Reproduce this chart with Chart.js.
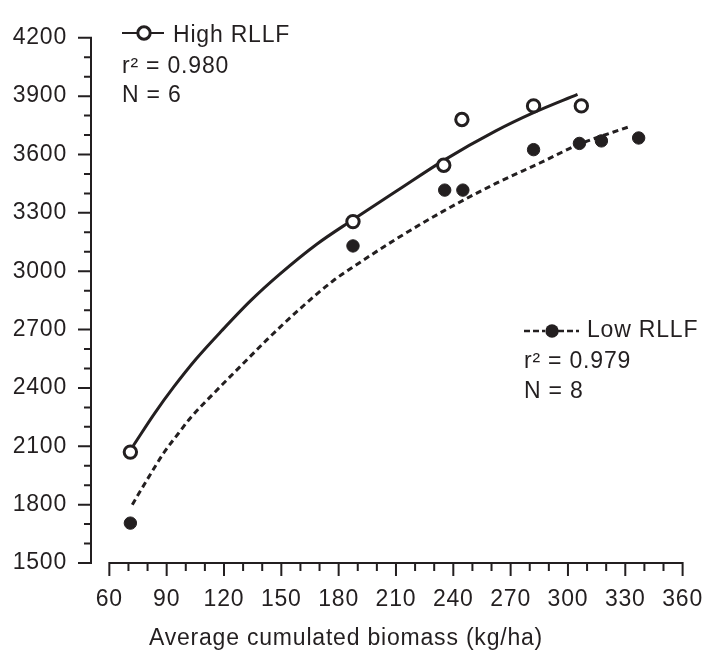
<!DOCTYPE html>
<html lang="en">
<head>
    <meta charset="UTF-8">
    <title>Average cumulated biomass vs RLLF</title>
    <script src="https://cdn.jsdelivr.net/npm/chart.js"></script>
    <style>
        body { margin: 0; background: #fff; }
        #wrap { width: 726px; height: 655px; }
    </style>
</head>
<body>
    <div id="wrap"><canvas id="biomassChart"></canvas></div>

    <script>
        // observed points (open circles = high RLLF, filled = low RLLF)
        var highX = [71, 187.5, 235, 244.5, 282, 307];
        var highY = [2070, 3255, 3545, 3780, 3850, 3850];
        var lowX = [71, 187.5, 235.5, 245, 282, 306, 317.5, 337];
        var lowY = [1705, 3130, 3417, 3417, 3625, 3657, 3670, 3685];

        // fitted curves
        var highFitX = [72.6, 83.6, 93.7, 105.5, 118.9, 134.1, 149.2, 168.7, 187, 211.5, 235, 262, 282, 305];
        var highFitY = [2104, 2268, 2405, 2550, 2695, 2850, 2985, 3140, 3262, 3420, 3570, 3720, 3815, 3909];
        var lowFitX = [72, 80.2, 88.6, 96.2, 102.1, 115.6, 129, 142.5, 159.3, 177, 188.8, 210, 235, 262, 285, 306, 332.4];
        var lowFitY = [1800, 1935, 2068, 2167, 2242, 2382, 2515, 2648, 2803, 2950, 3030, 3165, 3310, 3450, 3555, 3653, 3744];

        // tick labels
        var xLabels = [60, 90, 120, 150, 180, 210, 240, 270, 300, 330, 360];
        var yLabels = [1500, 1800, 2100, 2400, 2700, 3000, 3300, 3600, 3900, 4200];

        var ink = '#231f20';
        var family = '"Liberation Sans", Arial, Helvetica, sans-serif';
        var spacing = '0.8px';

        function pts(xs, ys) {
            return xs.map(function (x, i) { return { x: x, y: ys[i] }; });
        }

        // axis lines, tick marks, keys and x title
        var axisPlugin = {
            id: 'axisPlugin',
            beforeLayout: function (chart) { chart.ctx.letterSpacing = spacing; },
            beforeDraw: function (chart) { chart.ctx.letterSpacing = spacing; },
            afterDraw: function (chart) {
                var ctx = chart.ctx;
                var xs = chart.scales.x, ys = chart.scales.y;
                var left = chart.chartArea.left, bottom = chart.chartArea.bottom;
                var v, p;

                ctx.save();
                ctx.strokeStyle = ink;
                ctx.fillStyle = ink;
                ctx.lineWidth = 2;
                ctx.beginPath();
                // y axis with minor ticks every 100
                ctx.moveTo(left, ys.getPixelForValue(yLabels[yLabels.length - 1]) - 1);
                ctx.lineTo(left, ys.getPixelForValue(yLabels[0]) + 1);
                for (v = yLabels[0]; v <= yLabels[yLabels.length - 1]; v += 100) {
                    p = ys.getPixelForValue(v);
                    ctx.moveTo(left, p);
                    ctx.lineTo(left - (v % 300 === 0 ? 13 : 7), p);
                }
                // x axis, detached from the y axis, minor ticks every 10
                ctx.moveTo(xs.getPixelForValue(xLabels[0]) - 1, bottom);
                ctx.lineTo(xs.getPixelForValue(xLabels[xLabels.length - 1]) + 1, bottom);
                for (v = xLabels[0]; v <= xLabels[xLabels.length - 1]; v += 10) {
                    p = xs.getPixelForValue(v);
                    ctx.moveTo(p, bottom);
                    ctx.lineTo(p, bottom + (v % 30 === 0 ? 13 : 8));
                }
                ctx.stroke();

                // key: High RLLF
                ctx.beginPath();
                ctx.moveTo(122, 33);
                ctx.lineTo(164, 33);
                ctx.stroke();
                ctx.beginPath();
                ctx.arc(144, 33, 6.2, 0, Math.PI * 2);
                ctx.fillStyle = '#fff';
                ctx.fill();
                ctx.lineWidth = 3;
                ctx.stroke();

                // key: Low RLLF
                ctx.lineWidth = 2.5;
                ctx.setLineDash([6, 3]);
                ctx.beginPath();
                ctx.moveTo(524, 331);
                ctx.lineTo(545, 331);
                ctx.moveTo(558, 331);
                ctx.lineTo(579, 331);
                ctx.stroke();
                ctx.setLineDash([]);
                ctx.beginPath();
                ctx.arc(552, 331, 6.7, 0, Math.PI * 2);
                ctx.fillStyle = ink;
                ctx.fill();

                ctx.font = '23px ' + family;
                ctx.letterSpacing = spacing;
                ctx.textBaseline = 'alphabetic';
                ctx.textAlign = 'left';
                ctx.fillText('High RLLF', 173, 42);
                ctx.fillText('r\u00b2 = 0.980', 122, 73);
                ctx.fillText('N = 6', 122, 102);
                ctx.fillText('Low RLLF', 587, 337);
                ctx.fillText('r\u00b2 = 0.979', 524, 368);
                ctx.fillText('N = 8', 524, 398);

                ctx.textAlign = 'center';
                ctx.fillText('Average cumulated biomass (kg/ha)', 346, 645);
                ctx.restore();
            }
        };

        var ctx = document.getElementById('biomassChart').getContext('2d');
        var biomassChart = new Chart(ctx, {
            type: 'scatter',
            data: {
                datasets: [
                    {
                        label: 'High RLLF',
                        data: pts(highX, highY),
                        pointStyle: 'circle',
                        pointRadius: 6.2,
                        pointBorderWidth: 3,
                        pointBorderColor: ink,
                        pointBackgroundColor: '#fff'
                    },
                    {
                        label: 'Low RLLF',
                        data: pts(lowX, lowY),
                        pointStyle: 'circle',
                        pointRadius: 6.2,
                        pointBorderWidth: 1,
                        pointBorderColor: ink,
                        pointBackgroundColor: ink
                    },
                    {
                        label: 'High RLLF fit',
                        data: pts(highFitX, highFitY),
                        showLine: true,
                        borderColor: ink,
                        borderWidth: 3,
                        pointRadius: 0,
                        cubicInterpolationMode: 'monotone'
                    },
                    {
                        label: 'Low RLLF fit',
                        data: pts(lowFitX, lowFitY),
                        showLine: true,
                        borderColor: ink,
                        borderWidth: 3,
                        borderDash: [6, 4],
                        pointRadius: 0,
                        cubicInterpolationMode: 'monotone'
                    }
                ]
            },
            options: {
                responsive: true,
                maintainAspectRatio: false,
                animation: false,
                layout: { padding: { top: 20, right: 22, left: 0, bottom: 0 } },
                plugins: {
                    legend: { display: false },
                    tooltip: { enabled: false }
                },
                scales: {
                    x: {
                        type: 'linear',
                        min: 50.4,
                        max: 360,
                        afterBuildTicks: function (s) {
                            s.ticks = xLabels.map(function (v) { return { value: v }; });
                        },
                        afterFit: function (s) { s.height = 92; },
                        grid: { display: false, drawTicks: false },
                        border: { display: false },
                        ticks: {
                            color: ink,
                            font: { family: family, size: 23 },
                            padding: 23,
                            maxRotation: 0,
                            autoSkip: false,
                            callback: function (v) { return String(v); }
                        }
                    },
                    y: {
                        type: 'linear',
                        min: 1500,
                        max: 4200,
                        afterBuildTicks: function (s) {
                            s.ticks = yLabels.map(function (v) { return { value: v }; });
                        },
                        afterFit: function (s) { s.width = 91; },
                        grid: { display: false, drawTicks: false },
                        border: { display: false },
                        ticks: {
                            color: ink,
                            font: { family: family, size: 23 },
                            padding: 24,
                            autoSkip: false,
                            callback: function (v) { return String(v); }
                        }
                    }
                }
            },
            plugins: [axisPlugin]
        });
    </script>
</body>
</html>
